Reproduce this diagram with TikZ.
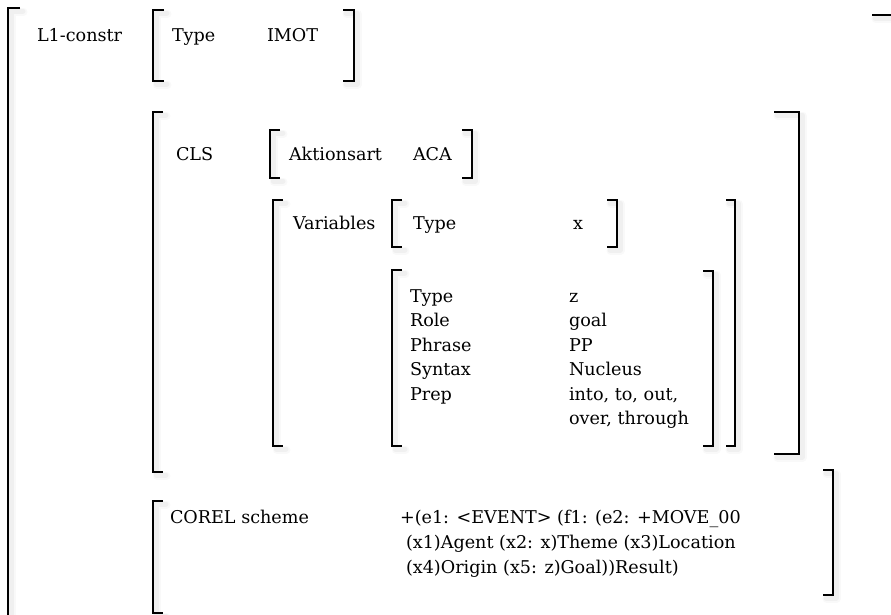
\documentclass[tikz,border=0pt]{standalone}
\usepackage{fontspec}
\setmainfont{DejaVu Serif}
\newcommand\fsz{\fontsize{17.6}{24}\selectfont}
\tikzset{
  lbl/.style={anchor=base west, inner sep=0pt, outer sep=0pt, font=\fsz},
  brk/.style={line width=1.8pt, line join=miter, line cap=butt},
  brkshadowA/.style={line width=8pt, draw=black, draw opacity=0.025, shift={(3.5,3.5)}, line cap=round, line join=round},
  brkshadowB/.style={line width=5pt, draw=black, draw opacity=0.035, shift={(3,3)}, line cap=round, line join=round}
}
% left bracket: x, top, bottom, tick
\newcommand\lbrk[4]{%
  \draw[brkshadowA] (#1+#4,#2) -- (#1,#2) -- (#1,#3) -- (#1+#4,#3);
  \draw[brkshadowB] (#1+#4,#2) -- (#1,#2) -- (#1,#3) -- (#1+#4,#3);
  \draw[brk] (#1+#4,#2) -- (#1,#2) -- (#1,#3) -- (#1+#4,#3);}
% right bracket: x, top, bottom, tick
\newcommand\rbrk[4]{%
  \draw[brkshadowA] (#1-#4,#2) -- (#1,#2) -- (#1,#3) -- (#1-#4,#3);
  \draw[brkshadowB] (#1-#4,#2) -- (#1,#2) -- (#1,#3) -- (#1-#4,#3);
  \draw[brk] (#1-#4,#2) -- (#1,#2) -- (#1,#3) -- (#1-#4,#3);}
\begin{document}
\begin{tikzpicture}[x=1pt, y=-1pt]
\useasboundingbox (0,0) rectangle (891,614);
\clip (0,0) rectangle (891,614);
\fill[white] (0,0) rectangle (891,614);

% outer brackets
\lbrk{8}{8}{640}{12}
\rbrk{893}{15}{640}{21}
% Type IMOT
\lbrk{153}{10}{81}{11}
\rbrk{354}{10}{81}{11}
% CLS
\lbrk{153}{112}{472}{10}
\rbrk{799}{112}{454}{25}
% Aktionsart
\lbrk{270}{130}{178}{10}
\rbrk{472}{130}{178}{10}
% Variables
\lbrk{273}{200}{446}{10}
\rbrk{735}{200}{446}{9}
% Type x
\lbrk{392}{200}{247}{10}
\rbrk{617}{200}{247}{10}
% Type z
\lbrk{392}{270}{446}{10}
\rbrk{713}{271}{446}{10}
% COREL
\lbrk{153}{501}{613}{10}
\rbrk{833}{470}{595}{10}

% texts
\node[lbl] (l1) at (37,41) {L1-constr};
\node[lbl] (t1) at (172,41) {Type};
\node[lbl] (imot) at (267,41) {IMOT};
\node[lbl] (cls) at (176,160) {CLS};
\node[lbl] (akt) at (289,160) {Aktionsart};
\node[lbl] (aca) at (413,160) {ACA};
\node[lbl] (var) at (293,229) {Variables};
\node[lbl] (tx) at (413,229) {Type};
\node[lbl] (vx) at (573,229) {x};
\node[lbl] (tz) at (410,302) {Type};
\node[lbl] (vz) at (569,302) {z};
\node[lbl] (role) at (410,326.5) {Role};
\node[lbl] (goal) at (569,326.5) {goal};
\node[lbl] (phr) at (410,351) {Phrase};
\node[lbl] (pp) at (569,351) {PP};
\node[lbl] (syn) at (410,375.5) {Syntax};
\node[lbl] (nuc) at (569,375.5) {Nucleus};
\node[lbl] (prep) at (410,400) {Prep};
\node[lbl] (into) at (569,400) {into, to, out,};
\node[lbl] (over) at (569,424.5) {over, through};
\node[lbl] (corel) at (170,523) {COREL scheme};
\node[lbl] (c1) at (400,523) {+(e1: <EVENT> (f1: (e2: +MOVE\_00};
\node[lbl] (c2) at (406,548) {(x1)Agent (x2: x)Theme (x3)Location};
\node[lbl] (c3) at (406,573) {(x4)Origin (x5: z)Goal))Result)};
\end{tikzpicture}
\end{document}
